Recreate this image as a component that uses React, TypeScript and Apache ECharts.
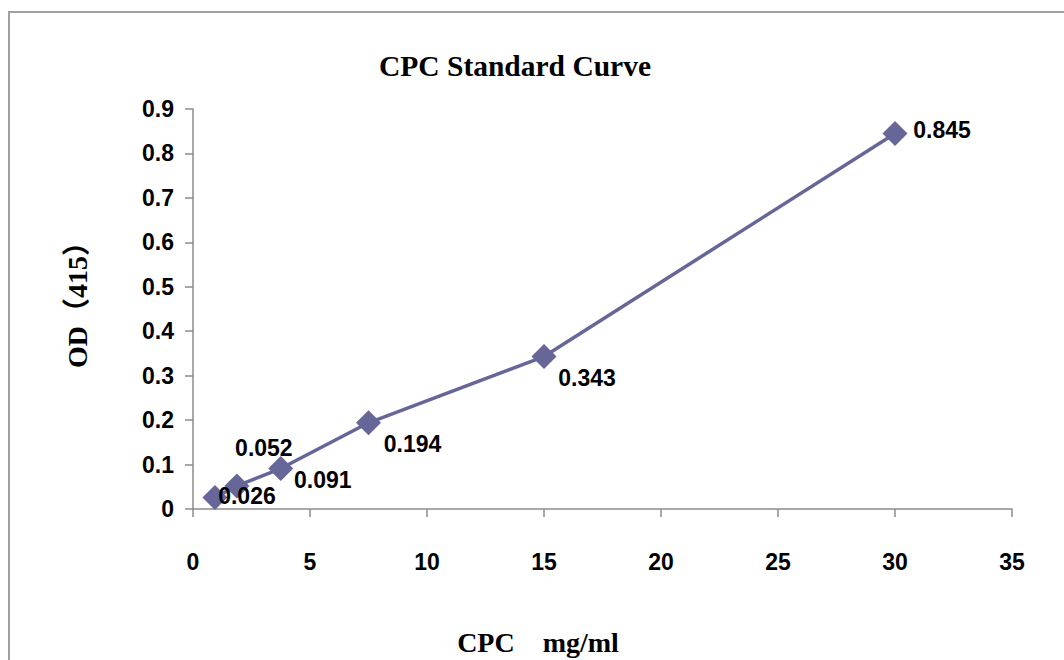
import React, { useEffect, useRef } from "react";
import * as echarts from "echarts";

const concentrations = [0.9375, 1.875, 3.75, 7.5, 15, 30];
const odValues = [0.026, 0.052, 0.091, 0.194, 0.343, 0.845];
const labelOffsets: [number, number][] = [
  [32, -1],
  [27, -38],
  [42, 11],
  [44, 21],
  [43, 21],
  [47, -3],
];

const NARROW = "'Liberation Sans Narrow', 'Arial Narrow', 'Liberation Sans', Arial, sans-serif";
const SERIF = "'Liberation Serif', 'Times New Roman', 'Noto Sans CJK SC', serif";

export default function App() {
  const ref = useRef<HTMLDivElement>(null);
  useEffect(() => {
    document.body.style.margin = "0";
    if (!ref.current) return;
    const chart = echarts.init(ref.current, undefined, { renderer: "svg" });
    const data = concentrations.map((x, i) => ({
      value: [x, odValues[i]],
      label: {
        show: true,
        position: "inside" as const,
        offset: labelOffsets[i],
        formatter: String(odValues[i]),
      },
    }));
    chart.setOption({
      animation: false,
      backgroundColor: "#ffffff",
      title: {
        text: "CPC Standard Curve",
        left: 510,
        top: 46,
        textAlign: "center",
        textStyle: { fontFamily: SERIF, fontWeight: "bold", fontSize: 29.5, color: "#000" },
      },
      graphic: [
        {
          type: "rect",
          shape: { x: 9, y: 12, width: 1200, height: 800 },
          style: { fill: "none", stroke: "#a0a0a0", lineWidth: 2 },
          silent: true,
        },
        {
          type: "text",
          x: 538,
          y: 642,
          style: {
            text: "CPC    mg/ml",
            fontFamily: SERIF,
            fontWeight: "bold",
            fontSize: 28,
            fill: "#000",
            textAlign: "center",
            textVerticalAlign: "middle",
          },
        },
        {
          type: "text",
          x: 77,
          y: 298,
          rotation: Math.PI / 2,
          style: {
            text: "OD（415）",
            fontFamily: SERIF,
            fontWeight: "bold",
            fontSize: 28,
            fill: "#000",
            textAlign: "center",
            textVerticalAlign: "middle",
          },
        },
      ],
      grid: { left: 193, right: 52, top: 109, bottom: 151, containLabel: false },
      xAxis: {
        type: "value",
        min: 0,
        max: 35,
        interval: 5,
        splitLine: { show: false },
        axisLine: { show: true, lineStyle: { color: "#8c8c8c", width: 1.5 } },
        axisTick: { show: true, inside: false, length: 8, lineStyle: { color: "#8c8c8c", width: 1.5 } },
        axisLabel: {
          margin: 41,
          fontFamily: NARROW,
          fontWeight: "bold",
          fontSize: 23,
          color: "#000",
        },
      },
      yAxis: {
        type: "value",
        min: 0,
        max: 0.9,
        interval: 0.1,
        splitLine: { show: false },
        axisLine: { show: true, lineStyle: { color: "#8c8c8c", width: 1.5 } },
        axisTick: { show: true, inside: false, length: 8, lineStyle: { color: "#8c8c8c", width: 1.5 } },
        axisLabel: {
          margin: 19,
          fontFamily: NARROW,
          fontWeight: "bold",
          fontSize: 23,
          color: "#000",
          formatter: (v: number) => String(Math.round(v * 10) / 10),
        },
      },
      series: [
        {
          type: "line",
          data,
          symbol: "diamond",
          symbolSize: 25,
          lineStyle: { color: "#666699", width: 3.5 },
          itemStyle: { color: "#666699" },
          label: {
            fontFamily: NARROW,
            fontWeight: "bold",
            fontSize: 23,
            color: "#000",
          },
        },
      ],
    });
    return () => chart.dispose();
  }, []);
  return <div ref={ref} style={{ width: 1064, height: 660 }} />;
}
